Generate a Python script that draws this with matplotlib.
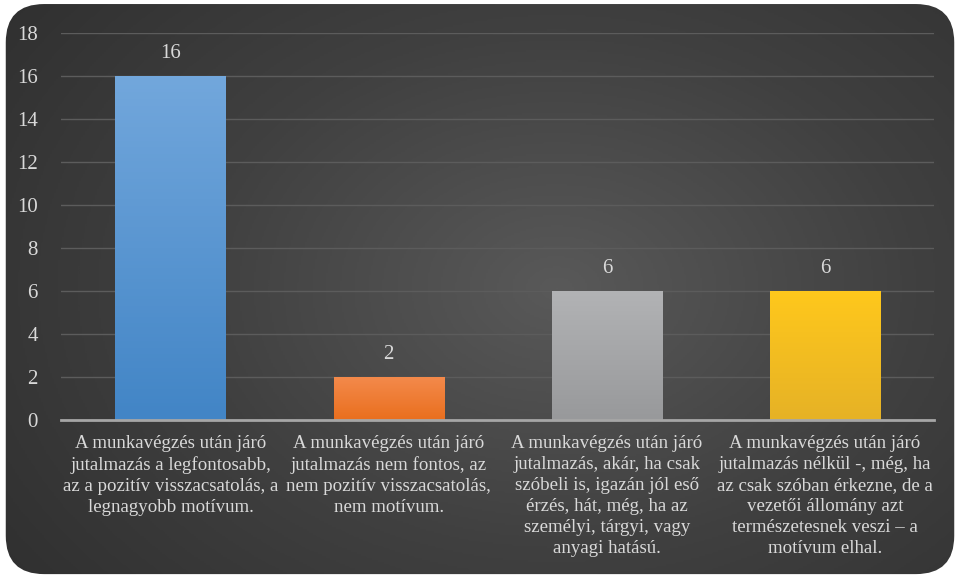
import numpy as np
import matplotlib.pyplot as plt
from matplotlib.patches import FancyBboxPatch
from matplotlib.colors import LinearSegmentedColormap

# Chart data
categories = [
    "A munkavégzés után járó\njutalmazás a legfontosabb,\naz a pozitív visszacsatolás, a\nlegnagyobb motívum.",
    "A munkavégzés után járó\njutalmazás nem fontos, az\nnem pozitív visszacsatolás,\nnem motívum.",
    "A munkavégzés után járó\njutalmazás, akár, ha csak\nszóbeli is, igazán jól eső\nérzés, hát, még, ha az\nszemélyi, tárgyi, vagy\nanyagi hatású.",
    "A munkavégzés után járó\njutalmazás nélkül -, még, ha\naz csak szóban érkezne, de a\nvezetői állomány azt\ntermészetesnek veszi – a\nmotívum elhal.",
]
values = [16, 2, 6, 6]
yticks = [0, 2, 4, 6, 8, 10, 12, 14, 16, 18]
# gradient colours (top, bottom) per bar
bar_colors = [("#72a7dc", "#4285c6"), ("#f48a4c", "#e96f1e"),
              ("#b2b3b5", "#98999b"), ("#ffc81c", "#e6b226")]

plt.rcParams['font.family'] = ['Liberation Serif', 'DejaVu Serif']
text_col = "#d9d9d9"

fig = plt.figure(figsize=(9.6, 5.77), dpi=100)
fig.patch.set_facecolor("white")

# rounded dark background with soft radial gradient
bg_ax = fig.add_axes([0, 0, 1, 1], zorder=0)
bg_ax.set_xlim(0, 1)
bg_ax.set_ylim(0, 1)
bg_ax.axis("off")
yy, xx = np.mgrid[0:1:300j, 0:1:500j]
d = np.sqrt(((xx - 0.58) / 0.75) ** 2 + ((yy - 0.5) / 0.9) ** 2)
bg_cmap = LinearSegmentedColormap.from_list("bg", ["#595959", "#404040", "#2e2e2e"])
img = bg_ax.imshow(d, extent=[0, 1, 0, 1], origin="lower", cmap=bg_cmap,
                   vmin=0, vmax=1.0, aspect="auto")
box = FancyBboxPatch((0.006, 0.005), 0.988, 0.988,
                     boxstyle="round,pad=0,rounding_size=0.04",
                     transform=bg_ax.transAxes, facecolor="none", edgecolor="none",
                     mutation_aspect=960 / 577)
bg_ax.add_patch(box)
img.set_clip_path(box)

ax = fig.add_axes([0.064, 0.272, 0.909, 0.671], zorder=1)
ax.patch.set_alpha(0)
x = np.arange(len(values))
bars = ax.bar(x, values, width=0.505, color="none", zorder=3)
grad = np.linspace(0, 1, 100).reshape(-1, 1)
for b, (top, bottom) in zip(bars, bar_colors):
    cm = LinearSegmentedColormap.from_list("g", [bottom, top])
    bx, by = b.get_x(), b.get_y()
    im = ax.imshow(grad, extent=[bx, bx + b.get_width(), by, by + b.get_height()],
                   origin="lower", cmap=cm, aspect="auto", zorder=3)
    im.set_clip_path(b)

for xi, v in zip(x, values):
    ax.text(xi, v + 0.6, str(v), ha="center", va="bottom", color=text_col, fontsize=15)

ax.set_xlim(-0.5, len(values) - 0.5)
ax.set_ylim(0, 18)
ax.set_yticks(yticks)
ax.set_yticklabels([str(t) for t in yticks], color=text_col, fontsize=15)
ax.set_xticks(x)
ax.set_xticklabels(categories, color=text_col, fontsize=13.6, linespacing=1.3, va="top")
ax.tick_params(length=0)
ax.tick_params(axis="y", pad=17)
ax.tick_params(axis="x", pad=11)
ax.yaxis.grid(True, color="#5c5c5c", linewidth=1)
ax.set_axisbelow(True)
for s in ["top", "right", "left"]:
    ax.spines[s].set_visible(False)
ax.spines["bottom"].set_color("#a6a6a6")
ax.spines["bottom"].set_linewidth(2)
ax.spines["bottom"].set_zorder(4)

fig.savefig("out.png", dpi=100)
